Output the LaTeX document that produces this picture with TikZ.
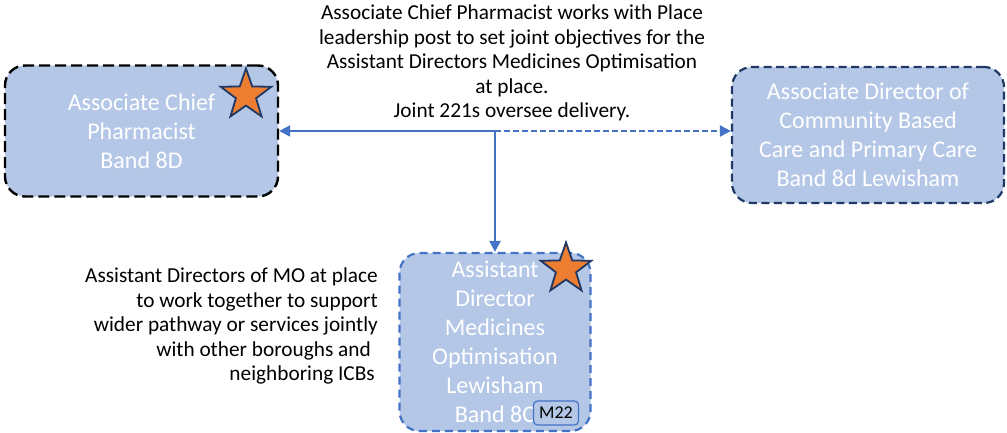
\documentclass[tikz,border=0pt]{standalone}
\usepackage{fontspec}
\setmainfont{Carlito}
\usetikzlibrary{shapes.geometric,arrows.meta}
\definecolor{boxfill}{HTML}{B4C7E7}
\definecolor{accent}{HTML}{4472C4}
\definecolor{navy}{HTML}{203864}
\definecolor{starfill}{HTML}{ED7D31}
\tikzset{
  rolebox/.style={draw, fill=boxfill, rounded corners=20pt, line width=2.4pt,
    text=white, align=center, font=\fontsize{24}{29}\selectfont, inner sep=0pt},
  starmark/.style={star, star points=5, star point ratio=2.5, minimum size=53pt, inner sep=0pt,
    fill=starfill, draw=navy, line width=1.8pt},
  link/.style={draw=accent, line width=2.2pt, -{Triangle[length=11pt,width=11pt]}},
  note/.style={font=\fontsize{21.3}{24.5}\selectfont, text=black, inner sep=0pt}
}
\begin{document}
\begin{tikzpicture}[x=1pt,y=-1pt]
\useasboundingbox (0,0) rectangle (1007,433);
\node[rolebox, draw=black, dash pattern=on 11pt off 5pt, minimum width=273pt, minimum height=131pt] (acp) at (141.5,131)
  {Associate Chief\\Pharmacist\\Band 8D};
\node[rolebox, draw=navy, line width=2.2pt, dash pattern=on 8pt off 4.5pt, minimum width=272pt, minimum height=136pt] (adc) at (868,135)
  {Associate Director of\\Community Based\\Care and Primary Care\\Band 8d Lewisham};
\node[rolebox, draw=accent, line width=2.2pt, dash pattern=on 8pt off 5pt, minimum width=191pt, minimum height=178pt] (adm) at (495,342)
  {Assistant\\Director\\Medicines\\Optimisation\\Lewisham\\Band 8C};
\node[draw=accent, fill=boxfill, rounded corners=4pt, line width=1.2pt, minimum width=45pt, minimum height=24pt,
  inner sep=0pt, font=\fontsize{18}{20}\selectfont] (m22) at (556,413) {M22};
\node[starmark] (s1) at (246,95) {};
\node[starmark] (s2) at (566,269) {};
\coordinate (j) at (495,131);
\draw[link] (j) -- (acp.east);
\draw[link, dash pattern=on 6pt off 3pt] (j) -- (j -| adc.west);
\draw[link] (j) -- (adm.north);
\node[note, align=center] (top) at (512,63)
  {Associate Chief Pharmacist works with Place\\leadership post to set joint objectives for the\\Assistant Directors Medicines Optimisation\\at place.\\Joint 221s oversee delivery.};
\node[note, align=right, anchor=east] (left) at (378,326)
  {Assistant Directors of MO at place\\to work together to support\\wider pathway or services jointly\\with other boroughs and\kern7pt\hbox{}\\neighboring ICBs\kern3pt\hbox{}};
\end{tikzpicture}
\end{document}
